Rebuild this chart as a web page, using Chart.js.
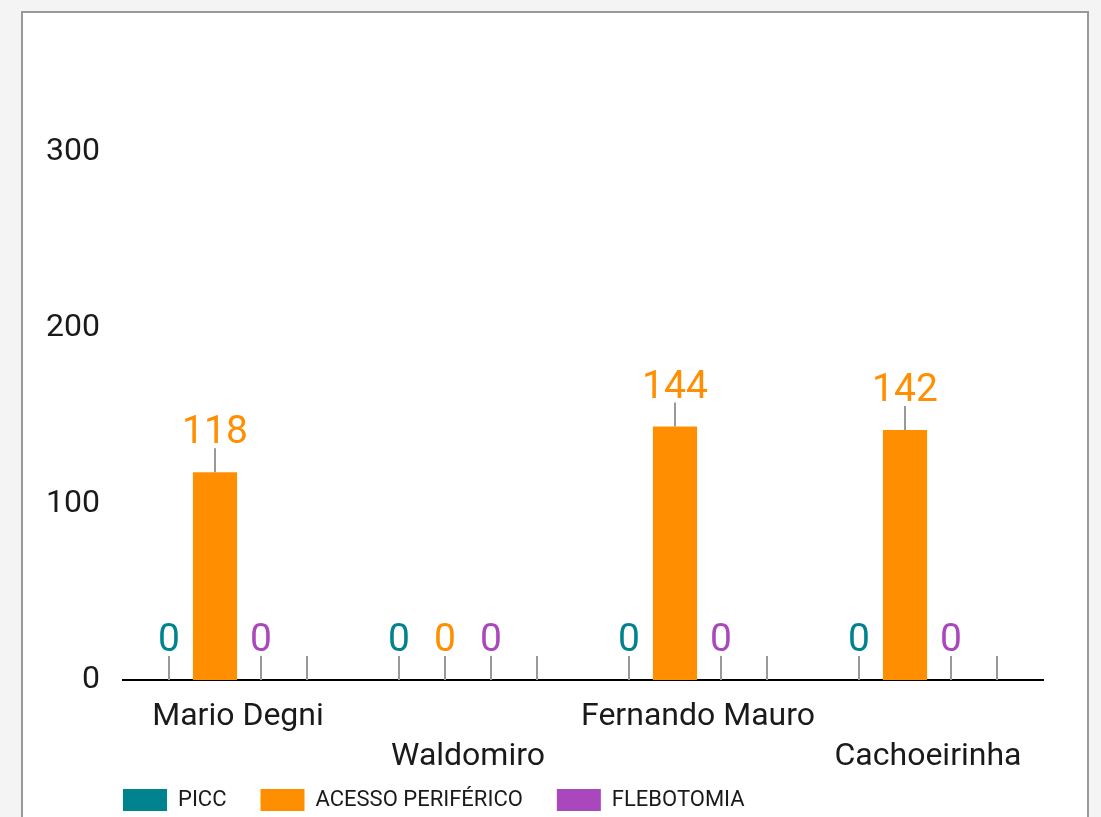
<!DOCTYPE html>
<html>
<head>
<meta charset="utf-8">
<script src="https://cdn.jsdelivr.net/npm/chart.js@4"></script>
<style>
    html, body { margin: 0; padding: 0; background: #f4f4f4; overflow: hidden; }
    #card { position: absolute; left: 21px; top: 11px; width: 1064px; height: 940px; border: 2px solid #999; background: #fff; }
    #card canvas { position: absolute; left: 0; top: 0; }
</style>
</head>
<body>
<div id="card"><canvas id="chart" width="1064" height="920"></canvas></div>
<script>
const units = ["Mario Degni", "Waldomiro", "Fernando Mauro", "Cachoeirinha"];
const picc = [0, 0, 0, 0];
const acessoPeriferico = [118, 0, 144, 142];
const flebotomia = [0, 0, 0, 0];
const semRotulo = [0, 0, 0, 0]; // 4th empty slot, only the leader line shows
const yStep = 100;
const yMax = 300;

// names alternate between first and second row under the axis
const labels = units.map((n, i) => i % 2 ? ["", n] : n);

const FONT = "Roboto";
const TEXT = "#1a1a1a";

const valueLabels = {
    id: "valueLabels",
    afterLayout(chart) {
        // legend sits right under the two-row axis labels, lined up with the axis start
        const lg = chart.legend;
        const h = lg.height;
        lg.top = 742;
        lg.bottom = lg.top + h;
        lg.left = 66;
    },
    afterDatasetsDraw(chart) {
        const ctx = chart.ctx;
        ctx.save();
        chart.data.datasets.forEach((ds, di) => {
            chart.getDatasetMeta(di).data.forEach((bar, i) => {
                const top = bar.y;
                const lineTop = top - 24;
                ctx.strokeStyle = "#999";
                ctx.lineWidth = 2;
                ctx.beginPath();
                ctx.moveTo(bar.x, top);
                ctx.lineTo(bar.x, lineTop);
                ctx.stroke();
                if (!ds.label) return;
                ctx.fillStyle = ds.backgroundColor;
                ctx.font = `39px ${FONT}`;
                ctx.textAlign = "center";
                ctx.textBaseline = "alphabetic";
                ctx.fillText(String(ds.data[i]), bar.x, lineTop - 5);
            });
        });
        ctx.restore();
    }
};

new Chart(document.getElementById("chart"), {
    type: "bar",
    data: {
        labels: labels,
        datasets: [
            { label: "PICC", data: picc, backgroundColor: "#00838f" },
            { label: "ACESSO PERIFÉRICO", data: acessoPeriferico, backgroundColor: "#ff8f00" },
            { label: "FLEBOTOMIA", data: flebotomia, backgroundColor: "#ab47bc" },
            { label: "", data: semRotulo, backgroundColor: "#cccccc" }
        ]
    },
    options: {
        responsive: false,
        animation: false,
        devicePixelRatio: 1,
        categoryPercentage: 0.8,
        barPercentage: 0.96,
        layout: { padding: { left: 0, right: 44, top: 139, bottom: 87 } },
        plugins: {
            tooltip: { enabled: false },
            legend: {
                position: "bottom",
                align: "start",
                labels: {
                    boxWidth: 44,
                    boxHeight: 22,
                    padding: 34,
                    color: TEXT,
                    font: { family: FONT, size: 22 },
                    filter: item => item.datasetIndex < 3
                }
            }
        },
        scales: {
            x: {
                grid: { display: false, drawTicks: false, tickLength: 0 },
                border: { display: true, color: "#000", width: 2 },
                ticks: {
                    color: TEXT,
                    font: { family: FONT, size: 32, lineHeight: 40 / 32 },
                    padding: 17,
                    maxRotation: 0,
                    autoSkip: false
                },
                afterFit: s => { s.height = 100; }
            },
            y: {
                min: 0,
                max: yMax,
                grid: { display: false, drawTicks: false, tickLength: 0 },
                border: { display: false },
                ticks: {
                    stepSize: yStep,
                    color: TEXT,
                    font: { family: FONT, size: 32 },
                    padding: 23
                },
                afterFit: s => { s.width = 100; }
            }
        }
    },
    plugins: [valueLabels]
});
</script>
</body>
</html>
